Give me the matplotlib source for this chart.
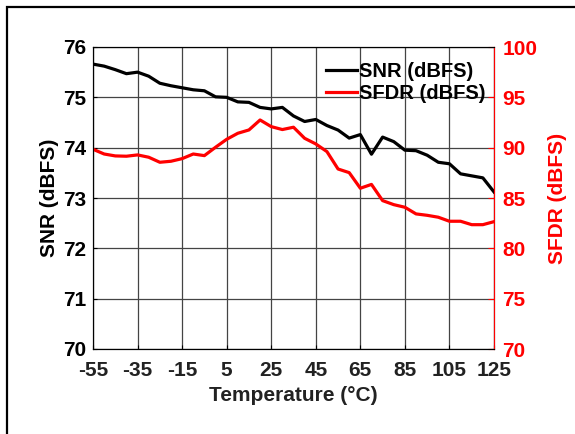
import matplotlib
matplotlib.use("Agg")
import matplotlib.pyplot as plt
from matplotlib.patches import Rectangle

plt.rcParams['font.family'] = ['Liberation Sans', 'DejaVu Sans']
plt.rcParams['font.weight'] = 'bold'
plt.rcParams['axes.unicode_minus'] = False

temp = [-55, -50, -45, -40, -35, -30, -25, -20, -15, -10, -5, 0, 5, 10, 15, 20,
        25, 30, 35, 40, 45, 50, 55, 60, 65, 70, 75, 80, 85, 90, 95, 100, 105,
        110, 115, 120, 125]
snr = [75.66, 75.62, 75.55, 75.47, 75.50, 75.42, 75.28, 75.23, 75.19, 75.15,
       75.13, 75.01, 75.00, 74.91, 74.90, 74.80, 74.77, 74.80, 74.63, 74.52,
       74.56, 74.44, 74.35, 74.19, 74.26, 73.87, 74.21, 74.12, 73.95, 73.94,
       73.85, 73.71, 73.68, 73.48, 73.44, 73.40, 73.12]
sfdr = [89.84, 89.37, 89.18, 89.15, 89.28, 89.05, 88.55, 88.65, 88.91, 89.37,
        89.21, 90.04, 90.83, 91.43, 91.76, 92.75, 92.09, 91.80, 92.03, 90.93,
        90.37, 89.61, 87.88, 87.52, 85.97, 86.35, 84.74, 84.34, 84.08, 83.42,
        83.28, 83.09, 82.69, 82.69, 82.35, 82.35, 82.65]

xticks = [-55, -35, -15, 5, 25, 45, 65, 85, 105, 125]
fs = 15

fig = plt.figure(figsize=(5.75, 4.34), dpi=100)
# frame around the whole picture (left and top edges visible)
fig.patches.append(Rectangle((7 / 575, -0.05), 1.2, 1 - 7 / 434 + 0.05,
                             transform=fig.transFigure, fill=False,
                             edgecolor='black', linewidth=1.6))

ax = fig.add_axes([93 / 575, 85 / 434, 401 / 575, 302 / 434])
ax2 = ax.twinx()

l1, = ax.plot(temp, snr, color='black', linewidth=2.3, label='SNR (dBFS)')
l2, = ax2.plot(temp, sfdr, color='red', linewidth=2.3, label='SFDR (dBFS)')

ax.set_xlim(-55, 125)
ax.set_ylim(70, 76)
ax2.set_ylim(70, 100)
ax.set_xticks(xticks)
ax.set_yticks(range(70, 77))
ax2.set_yticks(range(70, 101, 5))

ax.grid(True, color='#444444', linewidth=0.9)
ax.set_axisbelow(True)

ax.tick_params(axis='x', direction='in', length=3, labelsize=fs,
               labelcolor='#222222', pad=9)
ax.tick_params(axis='y', direction='in', length=3, labelsize=fs, pad=5)
ax2.tick_params(axis='y', direction='in', length=4, labelsize=fs,
                colors='red', pad=6)
ax2.spines['right'].set_color('red')

ax.set_xlabel('Temperature (°C)', fontsize=fs, fontweight='bold',
              color='#222222', labelpad=4)
ax.set_ylabel('SNR (dBFS)', fontsize=fs, fontweight='bold', labelpad=3)
ax2.set_ylabel('SFDR (dBFS)', fontsize=fs, fontweight='bold', color='red',
               labelpad=8)

ax.legend([l1, l2], ['SNR (dBFS)', 'SFDR (dBFS)'], loc='upper right',
          bbox_to_anchor=(0.998, 0.978), frameon=False, fontsize=14.5,
          handlelength=1.5, handletextpad=0.1, labelspacing=0.15,
          borderaxespad=0)

fig.savefig('out.png', dpi=100)
